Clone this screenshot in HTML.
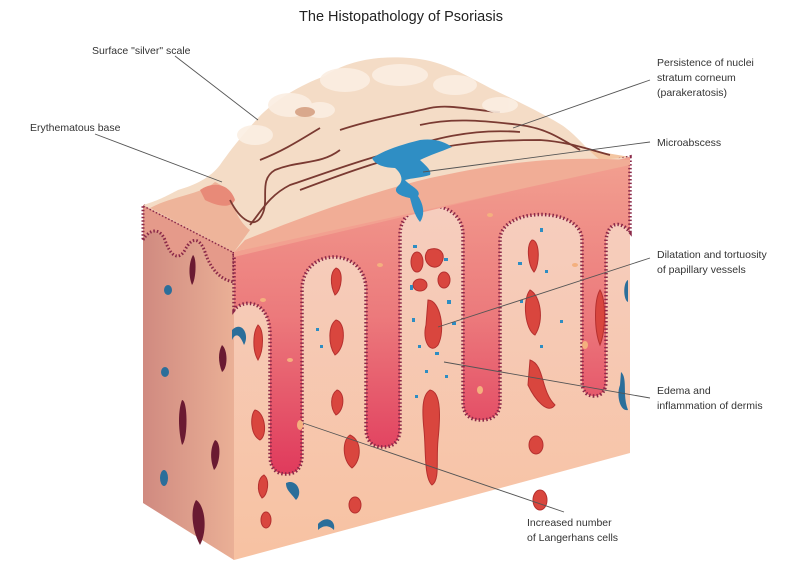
<!DOCTYPE html>
<html><head><meta charset="utf-8"><style>
html,body{margin:0;padding:0;background:#fff;}
svg{display:block;}
text{font-family:"Liberation Sans",sans-serif;fill:#333;}
</style></head><body>
<svg width="802" height="573" viewBox="0 0 802 573" xmlns="http://www.w3.org/2000/svg">
<defs>
<linearGradient id="epi" x1="0" y1="0" x2="0" y2="1">
<stop offset="0" stop-color="#f2a090"/><stop offset="0.5" stop-color="#ec7a7c"/><stop offset="1" stop-color="#e03a5c"/>
</linearGradient>
<linearGradient id="lf" x1="0" y1="0" x2="1" y2="0">
<stop offset="0" stop-color="#d08a80"/><stop offset="1" stop-color="#eab096"/>
</linearGradient>
<linearGradient id="fr" x1="0" y1="0" x2="0" y2="1">
<stop offset="0" stop-color="#f6cfc2"/><stop offset="1" stop-color="#f7c2a2"/>
</linearGradient>
</defs>
<text x="401" y="21" text-anchor="middle" font-size="14.5" style="fill:#222">The Histopathology of Psoriasis</text>

<!-- top face -->
<polygon points="143,205 470,130 630,157 234,252" fill="#f3c6a2"/>
<!-- left face -->
<polygon points="143,205 234,252 234,560 143,503" fill="url(#lf)"/>
<path d="M143,240 C150,228 160,228 165,240 C170,255 178,262 185,250 C192,236 200,238 205,252 C210,268 220,280 234,282 L234,252 L143,205 Z" fill="#e59a8a" stroke="#8a2848" stroke-width="3" stroke-dasharray="1.5,2"/>
<!-- front face -->
<polygon points="234,252 630,157 630,453 234,560" fill="url(#fr)"/>
<!-- epidermis -->
<path d="M234,252 L630,157 L630,232 C620,220 608,222 606,240 L606,380 Q606,396 594,396 Q582,396 582,380 L582,240 C582,206 500,206 500,240 L500,402 Q500,420 481,420 Q463,420 463,402 L463,235 C463,196 400,196 400,235 L400,428 Q400,447 383,447 Q366,447 366,428 L366,290 C366,246 302,246 302,290 L302,455 Q302,474 286,474 Q270,474 270,455 L270,335 C270,300 244,298 234,310 Z" fill="url(#epi)" stroke="#8a2848" stroke-width="3.5" stroke-dasharray="1.5,2.2"/>
<polygon points="234,252 630,157 630,163 234,257" fill="#f2a090"/>

<!-- mound -->
<path d="M143,205 C160,200 168,195 178,190 C195,185 210,178 220,165 C232,148 240,138 258,118 C275,100 300,85 325,76 C345,62 375,55 410,58 C440,60 460,72 490,88 C515,100 540,112 560,124 C575,133 585,148 600,160 L630,157 L234,252 Z" fill="#f4dcc6"/>
<path d="M150,208 C175,195 200,195 215,182 C235,190 230,215 250,230 L234,252 Z" fill="#eeb49a"/>
<path d="M200,190 C215,180 230,185 235,200 C230,210 215,205 205,200 Z" fill="#e88a78"/>
<path d="M245,240 C300,218 360,195 430,178 C490,165 550,155 630,160 L630,165 L234,252 Z" fill="#f1ad96"/>
<g fill="none" stroke="#7a3a32" stroke-width="1.8">
<path d="M230,200 C240,220 255,230 262,215 C270,200 258,180 275,170 C300,160 320,165 340,150"/>
<path d="M250,225 C262,210 270,195 290,185 C320,175 360,160 400,150 C430,140 470,128 520,132"/>
<path d="M300,190 C340,175 380,160 420,152 C450,145 480,140 540,140 C570,142 590,150 610,155"/>
<path d="M340,130 C370,120 400,115 430,108 C450,104 470,110 500,112"/>
<path d="M260,160 C285,150 300,140 320,128"/>
<path d="M420,125 C450,118 480,120 520,125 C545,128 560,138 580,150"/>
</g>
<g fill="#fbeee2" opacity="0.9">
<ellipse cx="290" cy="105" rx="22" ry="12"/><ellipse cx="345" cy="80" rx="25" ry="12"/><ellipse cx="400" cy="75" rx="28" ry="11"/><ellipse cx="455" cy="85" rx="22" ry="10"/><ellipse cx="255" cy="135" rx="18" ry="10"/><ellipse cx="320" cy="110" rx="15" ry="8"/><ellipse cx="500" cy="105" rx="18" ry="8"/>
</g>
<ellipse cx="305" cy="112" rx="10" ry="5" fill="#d9a88c"/>
<!-- microabscess -->
<path d="M372,158 C385,150 400,145 420,140 C435,138 445,142 452,147 C440,152 430,155 420,160 C425,165 432,170 430,175 C420,178 412,178 405,180 C410,186 422,190 418,196 C424,205 425,215 420,222 C414,215 412,205 410,198 C400,196 392,192 398,186 C405,180 400,172 395,168 C385,168 375,165 372,158 Z" fill="#2f8ec4"/>

<!-- vessels -->
<g fill="#d9463e" stroke="#b5302f" stroke-width="1">
<path d="M428,250 C440,245 448,255 440,265 C432,272 420,260 428,250 Z"/>
<ellipse cx="417" cy="262" rx="6" ry="10"/><ellipse cx="420" cy="285" rx="7" ry="6"/><ellipse cx="444" cy="280" rx="6" ry="8"/>
<path d="M428,300 C440,300 446,330 438,345 C430,355 422,340 426,325 Z"/>
<path d="M532,240 C540,240 540,265 534,272 C528,265 526,245 532,240 Z"/>
<path d="M530,290 C540,295 545,320 535,335 C525,330 522,300 530,290 Z"/>
<path d="M530,360 C545,365 540,390 555,405 C548,415 535,400 528,385 Z"/>
<path d="M336,268 C344,270 342,290 335,295 C330,285 330,272 336,268 Z"/>
<path d="M336,320 C346,322 346,348 335,355 C328,345 328,325 336,320 Z"/>
<path d="M337,390 C345,392 345,410 336,415 C330,408 330,395 337,390 Z"/>
<path d="M258,325 C264,330 264,350 258,360 C252,350 253,332 258,325 Z"/>
<path d="M430,390 C442,392 440,420 438,440 C436,460 440,480 432,485 C424,478 426,450 424,430 C422,410 422,395 430,390 Z"/>
<path d="M350,435 C362,440 362,460 352,468 C342,460 342,440 350,435 Z"/>
<path d="M255,410 C265,412 268,435 260,440 C250,435 250,415 255,410 Z"/>
<path d="M264,475 C270,480 268,495 262,498 C256,490 258,478 264,475 Z"/>
<ellipse cx="536" cy="445" rx="7" ry="9"/><ellipse cx="540" cy="500" rx="7" ry="10"/>
<path d="M600,290 C606,300 606,330 600,345 C594,330 594,300 600,290 Z"/>
<ellipse cx="266" cy="520" rx="5" ry="8"/><ellipse cx="355" cy="505" rx="6" ry="8"/>
</g>
<g fill="#6a1a32">
<path d="M182,400 C188,400 188,440 182,445 C178,430 178,410 182,400 Z"/>
<path d="M193,255 C197,258 196,280 192,285 C188,275 189,262 193,255 Z"/>
<path d="M215,440 C222,442 220,465 214,470 C210,460 210,448 215,440 Z"/>
<path d="M196,500 C205,505 208,530 200,545 C192,530 190,510 196,500 Z"/>
<path d="M222,345 C228,350 228,368 222,372 C218,362 218,352 222,345 Z"/>
</g>
<g fill="#2b6e9a">
<ellipse cx="165" cy="372" rx="4" ry="5"/><ellipse cx="164" cy="478" rx="4" ry="8"/><ellipse cx="168" cy="290" rx="4" ry="5"/>
<path d="M232,330 C242,320 250,335 244,345 C240,335 236,332 232,340 Z"/>
<path d="M286,483 C296,478 304,492 296,500 C290,492 286,490 286,483 Z"/>
<path d="M318,524 C326,515 336,520 334,530 C328,524 322,526 318,530 Z"/>
<path d="M621,372 C628,378 622,395 628,410 C620,412 616,395 620,385 Z"/>
<path d="M628,280 C623,282 623,300 628,302 Z"/>
</g>
<g fill="#2e8dc2">
<rect x="413" y="245" width="4" height="3"/><rect x="444" y="258" width="4" height="3"/><rect x="410" y="285" width="3" height="5"/><rect x="447" y="300" width="4" height="4"/><rect x="412" y="318" width="3" height="4"/><rect x="452" y="322" width="4" height="3"/><rect x="418" y="345" width="3" height="3"/><rect x="435" y="352" width="4" height="3"/><rect x="425" y="370" width="3" height="3"/><rect x="445" y="375" width="3" height="3"/><rect x="415" y="395" width="3" height="3"/>
<rect x="316" y="328" width="3" height="3"/><rect x="320" y="345" width="3" height="3"/><rect x="540" y="228" width="3" height="4"/><rect x="518" y="262" width="4" height="3"/><rect x="545" y="270" width="3" height="3"/><rect x="520" y="300" width="3" height="3"/><rect x="560" y="320" width="3" height="3"/><rect x="540" y="345" width="3" height="3"/>
</g>
<g fill="#f4b07e">
<ellipse cx="300" cy="425" rx="3" ry="5"/><ellipse cx="263" cy="300" rx="3" ry="2"/><ellipse cx="380" cy="265" rx="3" ry="2"/><ellipse cx="575" cy="265" rx="3" ry="2"/><ellipse cx="585" cy="345" rx="3" ry="4"/><ellipse cx="480" cy="390" rx="3" ry="4"/><ellipse cx="290" cy="360" rx="3" ry="2"/><ellipse cx="490" cy="215" rx="3" ry="2"/>
</g>

<!-- leader lines -->
<g stroke="#555" stroke-width="0.9" fill="none">
<line x1="175" y1="56" x2="258" y2="120"/>
<line x1="95" y1="134" x2="222" y2="182"/>
<line x1="650" y1="80" x2="513" y2="128"/>
<line x1="650" y1="142" x2="423" y2="172"/>
<line x1="650" y1="258" x2="438" y2="327"/>
<line x1="650" y1="398" x2="444" y2="362"/>
<line x1="564" y1="512" x2="303" y2="423"/>
</g>
<g font-size="10.5">
<text x="92" y="54">Surface "silver" scale</text>
<text x="30" y="131">Erythematous base</text>
<text x="657" y="66">Persistence of nuclei</text>
<text x="657" y="81">stratum corneum</text>
<text x="657" y="96">(parakeratosis)</text>
<text x="657" y="146">Microabscess</text>
<text x="657" y="258">Dilatation and tortuosity</text>
<text x="657" y="273">of papillary vessels</text>
<text x="657" y="394">Edema and</text>
<text x="657" y="409">inflammation of dermis</text>
<text x="527" y="526">Increased number</text>
<text x="527" y="541">of Langerhans cells</text>
</g>
</svg>
</body></html>
